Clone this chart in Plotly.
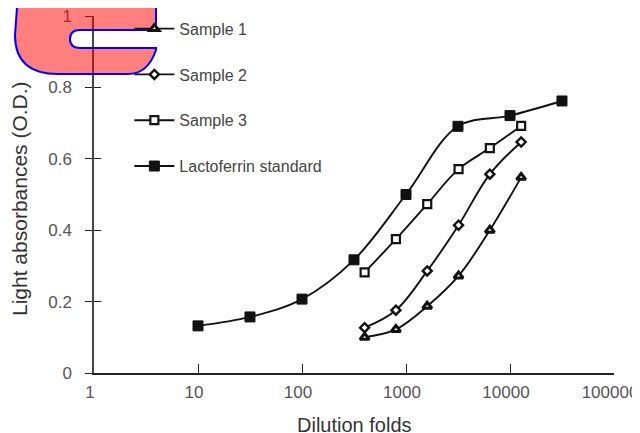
import plotly.graph_objects as go

# Dilution folds
std_x = [10, 31.6, 100, 316, 1000, 3160, 10000, 31600]
std_y = [0.132, 0.157, 0.207, 0.317, 0.50, 0.691, 0.721, 0.762]

samp_x = [400, 800, 1600, 3200, 6400, 12800]
s1_y = [0.100, 0.122, 0.187, 0.272, 0.400, 0.548]
s2_y = [0.127, 0.176, 0.286, 0.414, 0.557, 0.647]
s3_y = [0.282, 0.375, 0.473, 0.571, 0.630, 0.692]

x_ticks = [1, 10, 100, 1000, 10000, 100000]
x_ticklabels = ["1", "10", "100", "1000", "10000", "100000"]
y_ticks = [0, 0.2, 0.4, 0.6, 0.8, 1]
y_ticklabels = ["0", "0.2", "0.4", "0.6", "0.8", "1"]

FONT = "Liberation Sans, Arial, sans-serif"
LINE = "#111111"

PL, PR, PT, PB = 94, 614, 16, 373
def px(x, y):
    return f"{(x - PL) / (PR - PL):.4f},{(PB - y) / (PB - PT):.4f}"

wm_path = (
    f"M {px(18,-6)} L {px(15,35)} Q {px(15,74)} {px(58,74)} L {px(128,74)} "
    f"Q {px(148,74)} {px(156,50)} L {px(156,48)} L {px(80,48)} "
    f"Q {px(70,48)} {px(70,39)} Q {px(70,30)} {px(80,30)} L {px(156,30)} "
    f"L {px(156,-6)} Z"
)

fig = go.Figure()

def add(name, xs, ys, symbol, size, fill, lw, group):
    fig.add_trace(go.Scatter(
        x=xs, y=ys, name=name, mode="lines+markers",
        line=dict(color=LINE, width=1.9, shape="spline", smoothing=1.0),
        marker=dict(symbol=symbol, size=size, color=fill,
                    line=dict(color=LINE, width=lw)),
        legendgroup=group,
    ))

add("Sample 1", samp_x, s1_y, "triangle-up", 8, "white", 3, "g1")
add("Sample 2", samp_x, s2_y, "diamond", 7, "white", 2.4, "g2")
add("Sample 3", samp_x, s3_y, "square", 8, "white", 2.2, "g3")
add("Lactoferrin standard", std_x, std_y, "square", 10, LINE, 1, "g4")

fig.add_trace(go.Scatter(x=std_x, y=std_y, yaxis="y2", mode="markers",
                         marker=dict(opacity=0), showlegend=False,
                         hoverinfo="skip"))

fig.update_layout(
    template="none",
    width=640, height=433,
    margin=dict(l=86, r=34, t=8, b=68, autoexpand=False),
    paper_bgcolor="white", plot_bgcolor="rgba(0,0,0,0)",
    font=dict(family=FONT, color="#444444", size=14),
    xaxis=dict(type="log", range=[0, 5], tickvals=x_ticks, ticktext=x_ticklabels,
               ticks="inside", ticklen=9, tickwidth=1.3, tickcolor="#222",
               showline=True, linecolor="#222", linewidth=1.5,
               showgrid=False, zeroline=False, automargin=False,
               ticklabelstandoff=3, ticklabelshift=-4, ticklabeloverflow="allow",
               tickfont=dict(size=17, color="#555555")),
    yaxis=dict(range=[0, 1], tickvals=y_ticks, ticktext=y_ticklabels,
               ticks="outside", ticklen=7, tickwidth=1.3, tickcolor="#222",
               showline=True, linecolor="#444", linewidth=1.5,
               showgrid=False, zeroline=False, ticklabelstandoff=10,
               automargin=False, ticklabeloverflow="allow",
               tickfont=dict(size=17, color="#555555")),
    yaxis2=dict(range=[0, 1], overlaying="y", side="left", anchor="x",
                tickvals=y_ticks, ticks="inside", ticklen=7, tickwidth=1.3,
                tickcolor="#222", showticklabels=False, showline=False,
                showgrid=False, zeroline=False, automargin=False),
    showlegend=True,
    legend=dict(x=0.068, y=1.012, xanchor="left", yanchor="top",
                bgcolor="rgba(0,0,0,0)", traceorder="grouped",
                tracegroupgap=22, itemwidth=40,
                font=dict(size=16, color="#444444")),
    shapes=[dict(type="path", path=wm_path, xref="paper", yref="paper",
                 fillcolor="rgba(255,0,0,0.5)", line=dict(width=2, color="blue"),
                 layer="above")],
    annotations=[
        dict(text="Dilution folds", xref="paper", yref="paper", x=0.5, y=-0.1457,
             xanchor="center", yanchor="middle", showarrow=False,
             font=dict(size=20, color="#333333")),
        dict(text="Light absorbances (O.D.)", xref="paper", yref="paper",
             x=-0.1423, y=(PB - 199) / (PB - PT), xanchor="center", yanchor="middle",
             textangle=-90, showarrow=False,
             font=dict(size=21, color="#333333")),
    ],
)

fig.write_html("out.html")
